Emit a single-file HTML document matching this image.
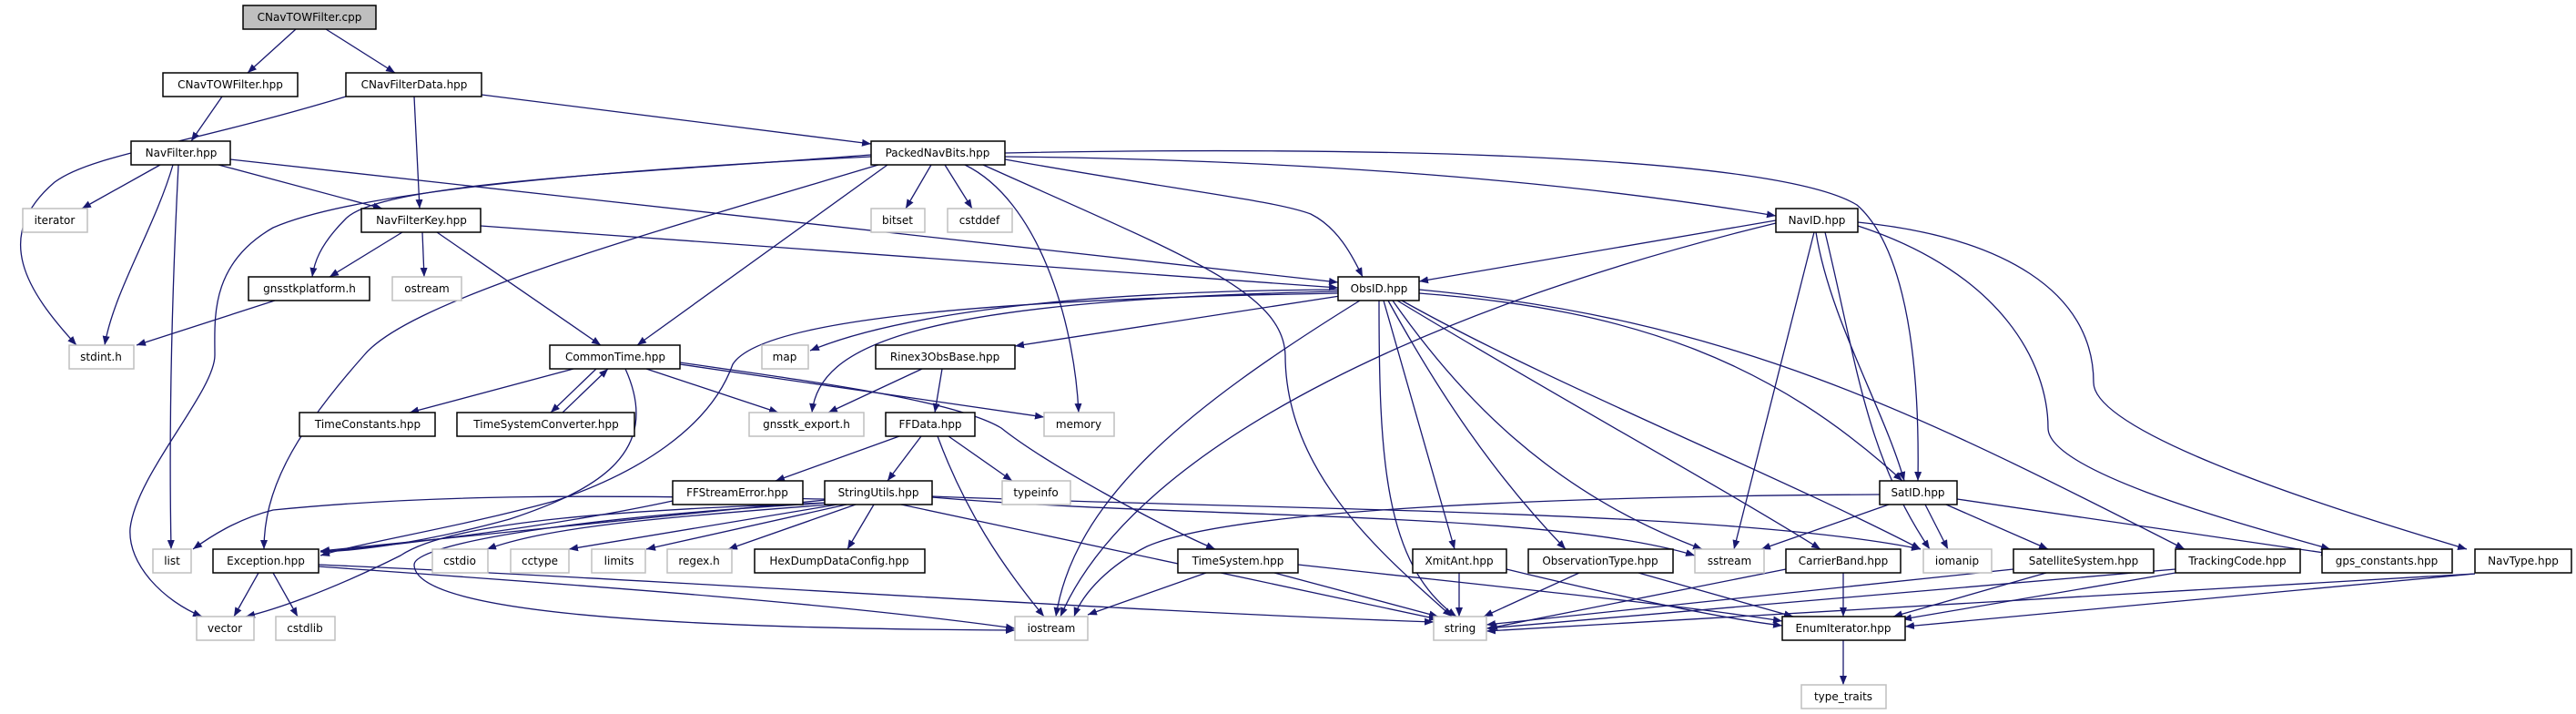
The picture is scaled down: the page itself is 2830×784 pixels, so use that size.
<!DOCTYPE html>
<html><head><meta charset="utf-8"><style>
html,body{margin:0;padding:0;background:#fff;}
svg{display:block;}
text{font-family:"DejaVu Sans","Liberation Sans",sans-serif;font-size:12px;fill:#000;text-anchor:middle;}
.n{fill:#fff;stroke:#000;stroke-width:1.5;}
.s{fill:#fff;stroke:#bfbfbf;stroke-width:1.5;}
.e{fill:none;stroke:#191970;stroke-width:1.3;marker-end:url(#a);}
</style></head><body>
<svg width="2830" height="784" viewBox="0 0 2830 784" xmlns="http://www.w3.org/2000/svg">
<defs><marker id="a" markerUnits="userSpaceOnUse" markerWidth="11" markerHeight="9" refX="10" refY="4" orient="auto"><path d="M0,0 L10,4 L0,8 z" fill="#191970"/></marker></defs>
<g>
<path class="e" d="M325,32 L272,80"/>
<path class="e" d="M358,32 L434,80"/>
<path class="e" d="M244,106 L210,155"/>
<path class="e" d="M380,106 C200,160 100,170 60,200 C-10,260 30,320 84,379"/>
<path class="e" d="M455,106 L461,229"/>
<path class="e" d="M529,104 L957,158"/>
<path class="e" d="M176,181 L90,229"/>
<path class="e" d="M190,181 C170,250 125,320 115,379"/>
<path class="e" d="M196,181 C190,300 185,450 188,603"/>
<path class="e" d="M240,181 L420,229"/>
<path class="e" d="M253,175 L1470,310"/>
<path class="e" d="M442,255 L362,304"/>
<path class="e" d="M464,255 L466,304"/>
<path class="e" d="M480,255 L660,379"/>
<path class="e" d="M528,248 L1470,316"/>
<path class="e" d="M302,330 L150,379"/>
<path class="e" d="M957,170 C700,190 420,200 380,240 C350,270 345,290 343,304"/>
<path class="e" d="M957,172 C600,190 380,215 300,250 C230,290 236,350 236,390 C236,430 150,520 143,580 C140,620 180,660 222,677"/>
<path class="e" d="M965,181 C700,260 450,330 400,390 C320,480 290,540 290,603"/>
<path class="e" d="M975,181 L700,379"/>
<path class="e" d="M1023,181 L995,229"/>
<path class="e" d="M1038,181 L1068,229"/>
<path class="e" d="M1060,181 C1140,220 1180,350 1185,453"/>
<path class="e" d="M1080,181 C1300,280 1410,320 1412,390 C1412,520 1520,610 1595,677"/>
<path class="e" d="M1104,175 C1300,210 1400,220 1440,235 C1470,250 1485,280 1497,304"/>
<path class="e" d="M1104,172 C1400,175 1700,195 1951,237"/>
<path class="e" d="M1104,168 C1500,160 1950,170 2040,225 C2080,260 2110,350 2107,528"/>
<path class="e" d="M1470,318 C1100,320 950,360 890,385"/>
<path class="e" d="M1470,320 C1000,330 900,380 892,453"/>
<path class="e" d="M1472,325 L1115,380"/>
<path class="e" d="M1470,322 C1000,330 830,360 805,400 C780,470 700,520 610,550 C500,580 400,595 352,610"/>
<path class="e" d="M1494,330 C1300,450 1180,550 1160,677"/>
<path class="e" d="M1515,330 C1515,500 1520,620 1600,677"/>
<path class="e" d="M1520,330 L1598,603"/>
<path class="e" d="M1525,330 C1580,430 1640,520 1720,603"/>
<path class="e" d="M1530,330 C1600,430 1700,540 1870,603"/>
<path class="e" d="M1535,330 C1700,430 1900,540 2000,603"/>
<path class="e" d="M1540,330 C1700,420 1950,520 2110,603"/>
<path class="e" d="M1559,322 C1800,340 1950,400 2090,528"/>
<path class="e" d="M1559,318 C1900,350 2100,450 2400,603"/>
<path class="e" d="M1951,242 L1559,309"/>
<path class="e" d="M1951,245 C1600,330 1250,480 1165,677"/>
<path class="e" d="M1993,255 L1905,603"/>
<path class="e" d="M1995,255 C2010,350 2070,450 2092,528"/>
<path class="e" d="M2005,255 C2040,400 2050,500 2120,603"/>
<path class="e" d="M2041,248 C2200,300 2250,400 2250,470 C2250,520 2480,580 2560,603"/>
<path class="e" d="M2041,244 C2200,260 2300,320 2300,420 C2300,480 2600,570 2710,603"/>
<path class="e" d="M630,405 L450,453"/>
<path class="e" d="M655,405 L605,453"/>
<path class="e" d="M618,453 L668,405"/>
<path class="e" d="M710,405 L855,453"/>
<path class="e" d="M747,400 L1147,458"/>
<path class="e" d="M747,398 C900,420 1050,440 1100,470 C1150,510 1280,580 1335,603"/>
<path class="e" d="M687,405 C730,500 650,540 560,570 C450,600 380,605 352,606"/>
<path class="e" d="M1013,405 L910,453"/>
<path class="e" d="M1035,405 L1027,453"/>
<path class="e" d="M988,479 L852,528"/>
<path class="e" d="M1012,479 L975,528"/>
<path class="e" d="M1042,479 L1112,528"/>
<path class="e" d="M1030,479 C1060,560 1100,620 1147,677"/>
<path class="e" d="M739,550 C600,580 420,600 352,606"/>
<path class="e" d="M907,548 C700,545 500,540 300,560 C260,570 230,590 212,603"/>
<path class="e" d="M907,549 L352,605"/>
<path class="e" d="M910,552 C700,560 500,570 440,610 C360,650 300,670 270,677"/>
<path class="e" d="M912,554 C700,570 600,580 535,603"/>
<path class="e" d="M920,554 L625,603"/>
<path class="e" d="M930,554 L710,603"/>
<path class="e" d="M940,554 L800,603"/>
<path class="e" d="M960,554 L931,603"/>
<path class="e" d="M912,552 C600,570 455,600 455,620 C455,670 700,690 1115,692"/>
<path class="e" d="M990,554 L1580,680"/>
<path class="e" d="M1024,546 C1300,570 1700,560 1862,610"/>
<path class="e" d="M1024,545 C1400,560 1900,560 2110,603"/>
<path class="e" d="M284,629 L257,677"/>
<path class="e" d="M300,629 L327,677"/>
<path class="e" d="M350,622 C600,640 900,660 1115,690"/>
<path class="e" d="M350,620 C800,640 1200,670 1575,683"/>
<path class="e" d="M1325,629 L1195,675"/>
<path class="e" d="M1400,629 L1580,677"/>
<path class="e" d="M1426,620 C1700,650 1850,665 1958,682"/>
<path class="e" d="M1603,629 L1603,677"/>
<path class="e" d="M1655,625 C1800,660 1900,680 1958,687"/>
<path class="e" d="M1735,629 L1630,677"/>
<path class="e" d="M1800,629 L1970,677"/>
<path class="e" d="M1962,625 L1635,690"/>
<path class="e" d="M2025,629 L2025,677"/>
<path class="e" d="M2065,543 C1700,545 1350,560 1260,600 C1220,620 1190,650 1180,677"/>
<path class="e" d="M2075,554 L1935,603"/>
<path class="e" d="M2115,554 L2140,603"/>
<path class="e" d="M2138,554 L2250,603"/>
<path class="e" d="M2150,548 L2560,608"/>
<path class="e" d="M2212,625 L1633,686"/>
<path class="e" d="M2248,629 L2080,677"/>
<path class="e" d="M2390,625 L1633,690"/>
<path class="e" d="M2390,629 L2090,680"/>
<path class="e" d="M2719,630 L1633,693"/>
<path class="e" d="M2719,630 L2093,688"/>
<path class="e" d="M2025,703 L2025,752"/>
</g>
<g>
<rect x="267" y="6" width="146" height="26" fill="#bfbfbf" stroke="#000" stroke-width="1.5"/><text x="340" y="23">CNavTOWFilter.cpp</text>
<rect class="n" x="179" y="80" width="148" height="26"/><text x="253" y="97">CNavTOWFilter.hpp</text>
<rect class="n" x="380" y="80" width="149" height="26"/><text x="455" y="97">CNavFilterData.hpp</text>
<rect class="n" x="144" y="155" width="109" height="26"/><text x="199" y="172">NavFilter.hpp</text>
<rect class="n" x="957" y="155" width="147" height="26"/><text x="1030" y="172">PackedNavBits.hpp</text>
<rect class="s" x="25" y="229" width="71" height="26"/><text x="60" y="246">iterator</text>
<rect class="n" x="397" y="229" width="131" height="26"/><text x="463" y="246">NavFilterKey.hpp</text>
<rect class="s" x="957" y="229" width="59" height="26"/><text x="986" y="246">bitset</text>
<rect class="s" x="1041" y="229" width="71" height="26"/><text x="1076" y="246">cstddef</text>
<rect class="n" x="1951" y="229" width="90" height="26"/><text x="1996" y="246">NavID.hpp</text>
<rect class="n" x="273" y="304" width="133" height="26"/><text x="340" y="321">gnsstkplatform.h</text>
<rect class="s" x="431" y="304" width="76" height="26"/><text x="469" y="321">ostream</text>
<rect class="n" x="1470" y="304" width="89" height="26"/><text x="1515" y="321">ObsID.hpp</text>
<rect class="s" x="76" y="379" width="71" height="26"/><text x="111" y="396">stdint.h</text>
<rect class="n" x="604" y="379" width="143" height="26"/><text x="676" y="396">CommonTime.hpp</text>
<rect class="s" x="837" y="379" width="51" height="26"/><text x="862" y="396">map</text>
<rect class="n" x="962" y="379" width="153" height="26"/><text x="1038" y="396">Rinex3ObsBase.hpp</text>
<rect class="n" x="329" y="453" width="149" height="26"/><text x="404" y="470">TimeConstants.hpp</text>
<rect class="n" x="502" y="453" width="195" height="26"/><text x="600" y="470">TimeSystemConverter.hpp</text>
<rect class="s" x="823" y="453" width="126" height="26"/><text x="886" y="470">gnsstk_export.h</text>
<rect class="n" x="973" y="453" width="98" height="26"/><text x="1022" y="470">FFData.hpp</text>
<rect class="s" x="1147" y="453" width="77" height="26"/><text x="1185" y="470">memory</text>
<rect class="n" x="739" y="528" width="143" height="26"/><text x="810" y="545">FFStreamError.hpp</text>
<rect class="n" x="906" y="528" width="118" height="26"/><text x="965" y="545">StringUtils.hpp</text>
<rect class="s" x="1101" y="528" width="75" height="26"/><text x="1138" y="545">typeinfo</text>
<rect class="n" x="2065" y="528" width="85" height="26"/><text x="2107" y="545">SatID.hpp</text>
<rect class="s" x="168" y="603" width="42" height="26"/><text x="189" y="620">list</text>
<rect class="n" x="234" y="603" width="116" height="26"/><text x="292" y="620">Exception.hpp</text>
<rect class="s" x="475" y="603" width="61" height="26"/><text x="505" y="620">cstdio</text>
<rect class="s" x="561" y="603" width="64" height="26"/><text x="593" y="620">cctype</text>
<rect class="s" x="650" y="603" width="59" height="26"/><text x="680" y="620">limits</text>
<rect class="s" x="733" y="603" width="71" height="26"/><text x="768" y="620">regex.h</text>
<rect class="n" x="829" y="603" width="187" height="26"/><text x="922" y="620">HexDumpDataConfig.hpp</text>
<rect class="n" x="1294" y="603" width="132" height="26"/><text x="1360" y="620">TimeSystem.hpp</text>
<rect class="n" x="1552" y="603" width="103" height="26"/><text x="1603" y="620">XmitAnt.hpp</text>
<rect class="n" x="1679" y="603" width="159" height="26"/><text x="1758" y="620">ObservationType.hpp</text>
<rect class="s" x="1862" y="603" width="76" height="26"/><text x="1900" y="620">sstream</text>
<rect class="n" x="1962" y="603" width="126" height="26"/><text x="2025" y="620">CarrierBand.hpp</text>
<rect class="s" x="2113" y="603" width="75" height="26"/><text x="2150" y="620">iomanip</text>
<rect class="n" x="2212" y="603" width="154" height="26"/><text x="2289" y="620">SatelliteSystem.hpp</text>
<rect class="n" x="2390" y="603" width="137" height="26"/><text x="2458" y="620">TrackingCode.hpp</text>
<rect class="n" x="2551" y="603" width="143" height="26"/><text x="2622" y="620">gps_constants.hpp</text>
<rect class="n" x="2719" y="603" width="106" height="26"/><text x="2772" y="620">NavType.hpp</text>
<rect class="s" x="216" y="677" width="63" height="26"/><text x="247" y="694">vector</text>
<rect class="s" x="303" y="677" width="65" height="26"/><text x="335" y="694">cstdlib</text>
<rect class="s" x="1115" y="677" width="80" height="26"/><text x="1155" y="694">iostream</text>
<rect class="s" x="1575" y="677" width="58" height="26"/><text x="1604" y="694">string</text>
<rect class="n" x="1958" y="677" width="135" height="26"/><text x="2025" y="694">EnumIterator.hpp</text>
<rect class="s" x="1979" y="752" width="93" height="26"/><text x="2025" y="769">type_traits</text>
</g>
</svg>
</body></html>
